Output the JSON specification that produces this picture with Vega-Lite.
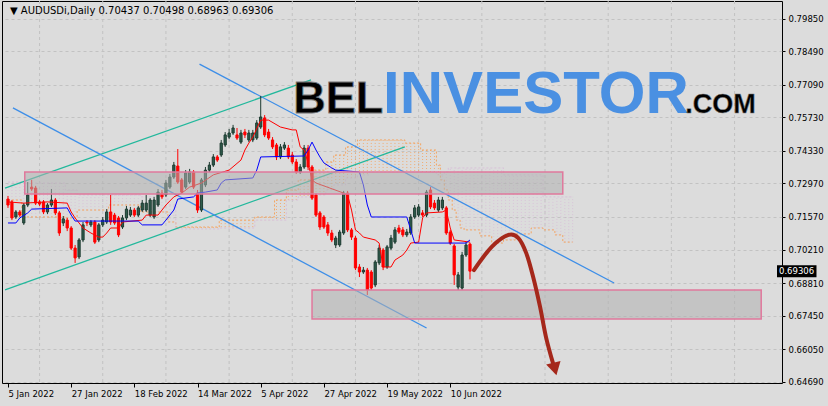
{
"$schema":"https://vega.github.io/schema/vega-lite/v6.json",
"width":780,"height":382,
"autosize":{"type":"none"},
"padding":{"left":2,"top":1,"right":46,"bottom":23},
"background":"#dcdcdc",
"config":{"view":{"stroke":"#000000","strokeWidth":1}},
"datasets":{
"gx":[{"i":8},{"i":24},{"i":40},{"i":56},{"i":72},{"i":88},{"i":104},{"i":120},{"i":136},{"i":152},{"i":168},{"i":184}],
"candles":[
{"i":0,"o":0.7232,"h":0.7245,"l":0.7195,"c":0.7207},
{"i":1,"o":0.7220,"h":0.7228,"l":0.7144,"c":0.7153},
{"i":2,"o":0.7157,"h":0.7186,"l":0.7149,"c":0.7178},
{"i":3,"o":0.7178,"h":0.7186,"l":0.7157,"c":0.7165},
{"i":4,"o":0.7132,"h":0.7215,"l":0.7124,"c":0.7207},
{"i":5,"o":0.7207,"h":0.7303,"l":0.7199,"c":0.7249},
{"i":6,"o":0.7282,"h":0.7312,"l":0.7266,"c":0.7274},
{"i":7,"o":0.7278,"h":0.7287,"l":0.7207,"c":0.7215},
{"i":8,"o":0.7220,"h":0.7228,"l":0.7203,"c":0.7211},
{"i":9,"o":0.7220,"h":0.7228,"l":0.7169,"c":0.7178},
{"i":10,"o":0.7178,"h":0.7215,"l":0.7169,"c":0.7207},
{"i":11,"o":0.7207,"h":0.7274,"l":0.7199,"c":0.7228},
{"i":12,"o":0.7228,"h":0.7236,"l":0.7165,"c":0.7174},
{"i":13,"o":0.7174,"h":0.7182,"l":0.7078,"c":0.7090},
{"i":14,"o":0.7132,"h":0.7161,"l":0.7119,"c":0.7149},
{"i":15,"o":0.7144,"h":0.7153,"l":0.7098,"c":0.7111},
{"i":16,"o":0.7111,"h":0.7119,"l":0.7019,"c":0.7027},
{"i":17,"o":0.7027,"h":0.7040,"l":0.6965,"c":0.6986},
{"i":18,"o":0.6990,"h":0.7069,"l":0.6981,"c":0.7061},
{"i":19,"o":0.7061,"h":0.7136,"l":0.7052,"c":0.7124},
{"i":20,"o":0.7136,"h":0.7144,"l":0.7119,"c":0.7132},
{"i":21,"o":0.7124,"h":0.7144,"l":0.7115,"c":0.7136},
{"i":22,"o":0.7136,"h":0.7144,"l":0.7044,"c":0.7052},
{"i":23,"o":0.7061,"h":0.7132,"l":0.7052,"c":0.7124},
{"i":24,"o":0.7124,"h":0.7157,"l":0.7115,"c":0.7144},
{"i":25,"o":0.7136,"h":0.7190,"l":0.7128,"c":0.7178},
{"i":26,"o":0.7178,"h":0.7249,"l":0.7124,"c":0.7136},
{"i":27,"o":0.7165,"h":0.7174,"l":0.7124,"c":0.7132},
{"i":28,"o":0.7153,"h":0.7161,"l":0.7073,"c":0.7082},
{"i":29,"o":0.7115,"h":0.7165,"l":0.7107,"c":0.7153},
{"i":30,"o":0.7153,"h":0.7203,"l":0.7144,"c":0.7190},
{"i":31,"o":0.7165,"h":0.7199,"l":0.7157,"c":0.7186},
{"i":32,"o":0.7186,"h":0.7195,"l":0.7157,"c":0.7165},
{"i":33,"o":0.7165,"h":0.7203,"l":0.7157,"c":0.7195},
{"i":34,"o":0.7186,"h":0.7228,"l":0.7178,"c":0.7215},
{"i":35,"o":0.7186,"h":0.7249,"l":0.7178,"c":0.7215},
{"i":36,"o":0.7165,"h":0.7236,"l":0.7157,"c":0.7228},
{"i":37,"o":0.7157,"h":0.7241,"l":0.7149,"c":0.7228},
{"i":38,"o":0.7207,"h":0.7274,"l":0.7199,"c":0.7261},
{"i":39,"o":0.7257,"h":0.7270,"l":0.7232,"c":0.7241},
{"i":40,"o":0.7249,"h":0.7312,"l":0.7241,"c":0.7299},
{"i":41,"o":0.7282,"h":0.7337,"l":0.7274,"c":0.7324},
{"i":42,"o":0.7324,"h":0.7387,"l":0.7316,"c":0.7374},
{"i":43,"o":0.7370,"h":0.7441,"l":0.7295,"c":0.7303},
{"i":44,"o":0.7312,"h":0.7320,"l":0.7253,"c":0.7261},
{"i":45,"o":0.7282,"h":0.7353,"l":0.7274,"c":0.7341},
{"i":46,"o":0.7303,"h":0.7358,"l":0.7295,"c":0.7345},
{"i":47,"o":0.7345,"h":0.7353,"l":0.7274,"c":0.7282},
{"i":48,"o":0.7257,"h":0.7270,"l":0.7174,"c":0.7186},
{"i":49,"o":0.7186,"h":0.7320,"l":0.7178,"c":0.7312},
{"i":50,"o":0.7291,"h":0.7366,"l":0.7282,"c":0.7353},
{"i":51,"o":0.7353,"h":0.7387,"l":0.7345,"c":0.7374},
{"i":52,"o":0.7374,"h":0.7420,"l":0.7366,"c":0.7408},
{"i":53,"o":0.7408,"h":0.7416,"l":0.7387,"c":0.7395},
{"i":54,"o":0.7416,"h":0.7479,"l":0.7408,"c":0.7466},
{"i":55,"o":0.7458,"h":0.7512,"l":0.7450,"c":0.7500},
{"i":56,"o":0.7491,"h":0.7525,"l":0.7483,"c":0.7508},
{"i":57,"o":0.7508,"h":0.7542,"l":0.7500,"c":0.7529},
{"i":58,"o":0.7500,"h":0.7529,"l":0.7479,"c":0.7487},
{"i":59,"o":0.7470,"h":0.7521,"l":0.7462,"c":0.7508},
{"i":60,"o":0.7512,"h":0.7525,"l":0.7487,"c":0.7500},
{"i":61,"o":0.7479,"h":0.7521,"l":0.7470,"c":0.7508},
{"i":62,"o":0.7479,"h":0.7521,"l":0.7470,"c":0.7508},
{"i":63,"o":0.7487,"h":0.7562,"l":0.7479,"c":0.7550},
{"i":64,"o":0.7533,"h":0.7663,"l":0.7525,"c":0.7575},
{"i":65,"o":0.7571,"h":0.7583,"l":0.7491,"c":0.7500},
{"i":66,"o":0.7512,"h":0.7525,"l":0.7479,"c":0.7487},
{"i":67,"o":0.7479,"h":0.7491,"l":0.7441,"c":0.7450},
{"i":68,"o":0.7458,"h":0.7466,"l":0.7395,"c":0.7408},
{"i":69,"o":0.7408,"h":0.7462,"l":0.7399,"c":0.7450},
{"i":70,"o":0.7445,"h":0.7470,"l":0.7437,"c":0.7458},
{"i":71,"o":0.7445,"h":0.7458,"l":0.7399,"c":0.7408},
{"i":72,"o":0.7416,"h":0.7429,"l":0.7378,"c":0.7387},
{"i":73,"o":0.7387,"h":0.7399,"l":0.7337,"c":0.7345},
{"i":74,"o":0.7345,"h":0.7378,"l":0.7337,"c":0.7366},
{"i":75,"o":0.7366,"h":0.7458,"l":0.7358,"c":0.7445},
{"i":76,"o":0.7445,"h":0.7458,"l":0.7353,"c":0.7366},
{"i":77,"o":0.7366,"h":0.7374,"l":0.7228,"c":0.7236},
{"i":78,"o":0.7249,"h":0.7257,"l":0.7157,"c":0.7165},
{"i":79,"o":0.7174,"h":0.7182,"l":0.7103,"c":0.7115},
{"i":80,"o":0.7157,"h":0.7165,"l":0.7107,"c":0.7115},
{"i":81,"o":0.7124,"h":0.7136,"l":0.7078,"c":0.7090},
{"i":82,"o":0.7090,"h":0.7103,"l":0.7052,"c":0.7061},
{"i":83,"o":0.7040,"h":0.7078,"l":0.7027,"c":0.7069},
{"i":84,"o":0.7040,"h":0.7103,"l":0.7032,"c":0.7094},
{"i":85,"o":0.7090,"h":0.7266,"l":0.7082,"c":0.7257},
{"i":86,"o":0.7257,"h":0.7266,"l":0.7094,"c":0.7103},
{"i":87,"o":0.7103,"h":0.7111,"l":0.7061,"c":0.7073},
{"i":88,"o":0.7069,"h":0.7078,"l":0.6935,"c":0.6944},
{"i":89,"o":0.6948,"h":0.6960,"l":0.6906,"c":0.6927},
{"i":90,"o":0.6927,"h":0.6948,"l":0.6919,"c":0.6935},
{"i":91,"o":0.6935,"h":0.6944,"l":0.6831,"c":0.6852},
{"i":92,"o":0.6927,"h":0.6935,"l":0.6852,"c":0.6860},
{"i":93,"o":0.6873,"h":0.6977,"l":0.6864,"c":0.6969},
{"i":94,"o":0.6965,"h":0.7040,"l":0.6956,"c":0.7027},
{"i":95,"o":0.7019,"h":0.7027,"l":0.6935,"c":0.6948},
{"i":96,"o":0.6948,"h":0.7040,"l":0.6940,"c":0.7032},
{"i":97,"o":0.7027,"h":0.7082,"l":0.7019,"c":0.7069},
{"i":98,"o":0.7052,"h":0.7115,"l":0.7044,"c":0.7103},
{"i":99,"o":0.7111,"h":0.7124,"l":0.7086,"c":0.7094},
{"i":100,"o":0.7103,"h":0.7115,"l":0.7073,"c":0.7082},
{"i":101,"o":0.7082,"h":0.7107,"l":0.7073,"c":0.7094},
{"i":102,"o":0.7090,"h":0.7169,"l":0.7082,"c":0.7157},
{"i":103,"o":0.7157,"h":0.7207,"l":0.7149,"c":0.7195},
{"i":104,"o":0.7165,"h":0.7211,"l":0.7157,"c":0.7199},
{"i":105,"o":0.7174,"h":0.7186,"l":0.7157,"c":0.7165},
{"i":106,"o":0.7165,"h":0.7270,"l":0.7157,"c":0.7261},
{"i":107,"o":0.7270,"h":0.7282,"l":0.7190,"c":0.7199},
{"i":108,"o":0.7215,"h":0.7228,"l":0.7186,"c":0.7195},
{"i":109,"o":0.7186,"h":0.7241,"l":0.7178,"c":0.7228},
{"i":110,"o":0.7195,"h":0.7241,"l":0.7186,"c":0.7228},
{"i":111,"o":0.7195,"h":0.7203,"l":0.7082,"c":0.7090},
{"i":112,"o":0.7094,"h":0.7103,"l":0.7040,"c":0.7048},
{"i":113,"o":0.7036,"h":0.7044,"l":0.6873,"c":0.6915},
{"i":114,"o":0.6864,"h":0.6927,"l":0.6852,"c":0.6915},
{"i":115,"o":0.6860,"h":0.7011,"l":0.6852,"c":0.6998},
{"i":116,"o":0.6998,"h":0.7052,"l":0.6990,"c":0.7040},
{"i":117,"o":0.70437,"h":0.70498,"l":0.68963,"c":0.69306}
],
"tenkan":[
{"i":0,"p":0.7220},{"i":4,"p":0.7215},{"i":10,"p":0.7220},{"i":15,"p":0.7215},{"i":16,"p":0.7178},{"i":17,"p":0.7153},{"i":19,"p":0.7111},{"i":21,"p":0.7090},{"i":23,"p":0.7073},{"i":24,"p":0.7073},{"i":25,"p":0.7090},{"i":26,"p":0.7111},{"i":28,"p":0.7111},{"i":29,"p":0.7136},{"i":34,"p":0.7144},{"i":35,"p":0.7165},{"i":38,"p":0.7165},{"i":39,"p":0.7186},{"i":40,"p":0.7207},{"i":42,"p":0.7241},{"i":44,"p":0.7257},{"i":46,"p":0.7282},{"i":49,"p":0.7299},{"i":52,"p":0.7333},{"i":56,"p":0.7353},{"i":59,"p":0.7395},{"i":60,"p":0.7437},{"i":61,"p":0.7466},{"i":62,"p":0.7491},{"i":64,"p":0.7562},{"i":66,"p":0.7562},{"i":69,"p":0.7533},{"i":72,"p":0.7521},{"i":73,"p":0.7521},{"i":74,"p":0.7450},{"i":75,"p":0.7437},{"i":76,"p":0.7383},{"i":77,"p":0.7312},{"i":78,"p":0.7299},{"i":85,"p":0.7257},{"i":86,"p":0.7249},{"i":87,"p":0.7186},{"i":88,"p":0.7103},{"i":89,"p":0.7090},{"i":90,"p":0.7073},{"i":93,"p":0.7061},{"i":94,"p":0.7048},{"i":95,"p":0.6948},{"i":97,"p":0.6948},{"i":98,"p":0.6977},{"i":100,"p":0.6998},{"i":101,"p":0.7019},{"i":102,"p":0.7048},{"i":104,"p":0.7052},{"i":105,"p":0.7153},{"i":106,"p":0.7174},{"i":110,"p":0.7178},{"i":111,"p":0.7186},{"i":112,"p":0.7111},{"i":113,"p":0.7061},{"i":117,"p":0.7052}
],
"kijun":[
{"i":0,"p":0.7132},{"i":2,"p":0.7132},{"i":3,"p":0.7153},{"i":5,"p":0.7174},{"i":6,"p":0.7190},{"i":15,"p":0.7195},{"i":16,"p":0.7165},{"i":17,"p":0.7140},{"i":33,"p":0.7140},{"i":34,"p":0.7124},{"i":39,"p":0.7124},{"i":40,"p":0.7144},{"i":42,"p":0.7186},{"i":43,"p":0.7232},{"i":47,"p":0.7241},{"i":48,"p":0.7257},{"i":50,"p":0.7261},{"i":53,"p":0.7270},{"i":54,"p":0.7299},{"i":55,"p":0.7312},{"i":62,"p":0.7320},{"i":63,"p":0.7353},{"i":64,"p":0.7408},{"i":75,"p":0.7412},{"i":76,"p":0.7437},{"i":77,"p":0.7470},{"i":78,"p":0.7437},{"i":79,"p":0.7408},{"i":80,"p":0.7383},{"i":82,"p":0.7362},{"i":83,"p":0.7353},{"i":89,"p":0.7345},{"i":90,"p":0.7291},{"i":91,"p":0.7207},{"i":92,"p":0.7157},{"i":101,"p":0.7157},{"i":102,"p":0.7103},{"i":103,"p":0.7048},{"i":116,"p":0.7048},{"i":117,"p":0.7061}
],
"cloud":[
{"i":0,"a":0.7228,"b":0.7303},{"i":1,"a":0.7228,"b":0.7303},{"i":2,"a":0.7228,"b":0.7303},{"i":3,"a":0.7228,"b":0.7303},
{"i":4,"a":0.7157,"b":0.7299},{"i":5,"a":0.7157,"b":0.7299},{"i":6,"a":0.7157,"b":0.7299},{"i":7,"a":0.7157,"b":0.7299},{"i":8,"a":0.7157,"b":0.7299},{"i":9,"a":0.7157,"b":0.7299},{"i":10,"a":0.7157,"b":0.7299},{"i":11,"a":0.7157,"b":0.7299},{"i":12,"a":0.7157,"b":0.7299},{"i":13,"a":0.7157,"b":0.7299},{"i":14,"a":0.7157,"b":0.7299},
{"i":15,"a":0.7153,"b":0.7270},{"i":16,"a":0.7153,"b":0.7270},{"i":17,"a":0.7153,"b":0.7270},
{"i":18,"a":0.7186,"b":0.7249},{"i":19,"a":0.7186,"b":0.7249},{"i":20,"a":0.7186,"b":0.7249},{"i":21,"a":0.7186,"b":0.7249},{"i":22,"a":0.7186,"b":0.7249},{"i":23,"a":0.7186,"b":0.7249},{"i":24,"a":0.7186,"b":0.7249},{"i":25,"a":0.7186,"b":0.7249},
{"i":26,"a":0.7207,"b":0.7249},{"i":27,"a":0.7207,"b":0.7249},{"i":28,"a":0.7207,"b":0.7249},{"i":29,"a":0.7207,"b":0.7249},{"i":30,"a":0.7207,"b":0.7249},{"i":31,"a":0.7207,"b":0.7249},{"i":32,"a":0.7207,"b":0.7249},{"i":33,"a":0.7207,"b":0.7249},
{"i":34,"a":0.7178,"b":0.7241},{"i":35,"a":0.7178,"b":0.7241},{"i":36,"a":0.7178,"b":0.7241},{"i":37,"a":0.7178,"b":0.7241},{"i":38,"a":0.7178,"b":0.7241},{"i":39,"a":0.7178,"b":0.7241},{"i":40,"a":0.7178,"b":0.7241},
{"i":41,"a":0.7136,"b":0.7207},{"i":42,"a":0.7136,"b":0.7207},
{"i":43,"a":0.7115,"b":0.7107},{"i":44,"a":0.7115,"b":0.7107},{"i":45,"a":0.7115,"b":0.7107},{"i":46,"a":0.7115,"b":0.7107},{"i":47,"a":0.7115,"b":0.7107},{"i":48,"a":0.7115,"b":0.7107},{"i":49,"a":0.7115,"b":0.7107},{"i":50,"a":0.7115,"b":0.7107},{"i":51,"a":0.7115,"b":0.7107},{"i":52,"a":0.7115,"b":0.7107},{"i":53,"a":0.7115,"b":0.7107},
{"i":54,"a":0.7144,"b":0.7111},{"i":55,"a":0.7144,"b":0.7111},{"i":56,"a":0.7144,"b":0.7111},{"i":57,"a":0.7144,"b":0.7111},{"i":58,"a":0.7144,"b":0.7111},{"i":59,"a":0.7144,"b":0.7111},{"i":60,"a":0.7144,"b":0.7111},{"i":61,"a":0.7144,"b":0.7111},{"i":62,"a":0.7144,"b":0.7111},
{"i":63,"a":0.7157,"b":0.7144},{"i":64,"a":0.7157,"b":0.7144},{"i":65,"a":0.7157,"b":0.7144},{"i":66,"a":0.7157,"b":0.7144},{"i":67,"a":0.7157,"b":0.7144},
{"i":68,"a":0.7228,"b":0.7144},{"i":69,"a":0.7228,"b":0.7144},{"i":70,"a":0.7228,"b":0.7144},
{"i":71,"a":0.7270,"b":0.7228},{"i":72,"a":0.7270,"b":0.7228},{"i":73,"a":0.7270,"b":0.7228},
{"i":74,"a":0.7312,"b":0.7241},{"i":75,"a":0.7312,"b":0.7241},{"i":76,"a":0.7312,"b":0.7241},{"i":77,"a":0.7312,"b":0.7241},
{"i":78,"a":0.7353,"b":0.7249},{"i":79,"a":0.7353,"b":0.7249},{"i":80,"a":0.7353,"b":0.7249},
{"i":81,"a":0.7387,"b":0.7270},{"i":82,"a":0.7387,"b":0.7270},
{"i":83,"a":0.7416,"b":0.7291},{"i":84,"a":0.7416,"b":0.7291},{"i":85,"a":0.7416,"b":0.7291},
{"i":86,"a":0.7450,"b":0.7320},{"i":87,"a":0.7450,"b":0.7320},{"i":88,"a":0.7450,"b":0.7320},
{"i":89,"a":0.7479,"b":0.7333},{"i":90,"a":0.7479,"b":0.7333},{"i":91,"a":0.7479,"b":0.7333},
{"i":92,"a":0.7479,"b":0.7345},{"i":93,"a":0.7479,"b":0.7345},{"i":94,"a":0.7479,"b":0.7345},{"i":95,"a":0.7479,"b":0.7345},{"i":96,"a":0.7479,"b":0.7345},{"i":97,"a":0.7479,"b":0.7345},{"i":98,"a":0.7479,"b":0.7345},{"i":99,"a":0.7479,"b":0.7345},{"i":100,"a":0.7479,"b":0.7345},
{"i":101,"a":0.7466,"b":0.7345},{"i":102,"a":0.7466,"b":0.7345},{"i":103,"a":0.7466,"b":0.7345},{"i":104,"a":0.7466,"b":0.7345},
{"i":105,"a":0.7437,"b":0.7345},{"i":106,"a":0.7437,"b":0.7345},{"i":107,"a":0.7437,"b":0.7345},{"i":108,"a":0.7437,"b":0.7345},
{"i":109,"a":0.7374,"b":0.7333},{"i":110,"a":0.7312,"b":0.7333},{"i":111,"a":0.7270,"b":0.7345},{"i":112,"a":0.7228,"b":0.7362},{"i":113,"a":0.7186,"b":0.7362},{"i":114,"a":0.7144,"b":0.7362},{"i":115,"a":0.7111,"b":0.7362},
{"i":116,"a":0.7103,"b":0.7362},{"i":117,"a":0.7103,"b":0.7362},{"i":118,"a":0.7103,"b":0.7362},{"i":119,"a":0.7103,"b":0.7362},
{"i":120,"a":0.7078,"b":0.7362},{"i":121,"a":0.7078,"b":0.7362},{"i":122,"a":0.7078,"b":0.7362},
{"i":123,"a":0.7048,"b":0.7362},{"i":124,"a":0.7048,"b":0.7362},{"i":125,"a":0.7048,"b":0.7362},
{"i":126,"a":0.7061,"b":0.7333},{"i":127,"a":0.7061,"b":0.7333},{"i":128,"a":0.7061,"b":0.7333},
{"i":129,"a":0.7086,"b":0.7333},{"i":130,"a":0.7086,"b":0.7333},{"i":131,"a":0.7086,"b":0.7333},{"i":132,"a":0.7086,"b":0.7333},
{"i":133,"a":0.7111,"b":0.7333},{"i":134,"a":0.7111,"b":0.7333},{"i":135,"a":0.7111,"b":0.7333},
{"i":136,"a":0.7103,"b":0.7241},{"i":137,"a":0.7103,"b":0.7241},{"i":138,"a":0.7103,"b":0.7241},
{"i":139,"a":0.7082,"b":0.7241},{"i":140,"a":0.7082,"b":0.7241},
{"i":141,"a":0.7052,"b":0.7241},{"i":142,"a":0.7052,"b":0.7241},{"i":143,"a":0.7052,"b":0.7241}
],
"teal":[{"seg":"u","i":-0.75,"p":0.7278},{"seg":"u","i":76.75,"p":0.7730},{"seg":"d","i":-0.75,"p":0.6852},{"seg":"d","i":100.5,"p":0.7450}],
"blue":[{"seg":"u","i":48.5,"p":0.7796},{"seg":"u","i":153.5,"p":0.6881},{"seg":"d","i":1.25,"p":0.7613},{"seg":"d","i":106,"p":0.6693}],
"zones":[{"i":4.25,"i2":140.5,"p":0.7345,"p2":0.7253},{"i":77,"i2":190.75,"p":0.6852,"p2":0.6731}],
"arrow":[{"k":1,"i":118,"p":0.6935},{"k":2,"i":122.5,"p":0.7032},{"k":3,"i":126.75,"p":0.7082},{"k":4,"i":129.25,"p":0.7069},{"k":5,"i":131.25,"p":0.7006},{"k":6,"i":133,"p":0.6906},{"k":7,"i":134.75,"p":0.6781},{"k":8,"i":136.25,"p":0.6655},{"k":9,"i":138,"p":0.6547}],
"head":[{"i":138.5,"p":0.6522}],
"bel":[{"i":72.25,"p":0.7592,"t":"BEL"}],
"inv":[{"i":95,"p":0.7592,"t":"INVESTOR"}],
"com":[{"i":171.5,"p":0.7592,"t":".COM"}],
"hdr":[{"i":0.5,"p":0.8018,"t":"▼ AUDUSDi,Daily  0.70437 0.70498 0.68963 0.69306"}],
"last":[{"i":194.75,"i2":204.75,"p":0.69306,"lo":0.69056,"hi":0.69556,"t":"0.69306"}]
},
"encoding":{"x":{"field":"i","type":"quantitative","title":null,
 "scale":{"domain":[-0.25,194.75],"nice":false,"zero":false},
 "axis":{"orient":"bottom","values":[0,16,32,48,64,80,96,112],"tickCount":40,
  "labelExpr":"['5 Jan 2022','27 Jan 2022','18 Feb 2022','14 Mar 2022','5 Apr 2022','27 Apr 2022','19 May 2022','10 Jun 2022'][round(datum.value/16)]",
  "grid":false,"domain":false,"tickSize":4,"tickColor":"#000000","labelAlign":"left","labelBaseline":"top","labelPadding":2,
  "labelFont":"DejaVu Sans","labelFontSize":8.5,"labelColor":"#000000","labelFlush":false,"labelOverlap":false}}},
"layer":[
{"data":{"name":"candles"},"mark":{"type":"rule","strokeWidth":1},
 "encoding":{"y":{"field":"l","type":"quantitative","title":null,"scale":{"domain":[0.64631,0.80598],"nice":false,"zero":false},
   "axis":{"orient":"right","values":[0.6469,0.6605,0.6745,0.6881,0.7021,0.7157,0.7297,0.7433,0.7573,0.7709,0.7849,0.7985],"format":".5f","tickCount":40,
    "tickSize":3,"tickColor":"#000000","domain":false,"grid":true,"gridColor":"#c2c2c2","gridDash":[3,3],
    "labelColor":"#000000","labelFont":"DejaVu Sans","labelFontSize":8.5,"labelPadding":3,"labelOverlap":false,"labelFlush":false}},
  "y2":{"field":"h"},
  "opacity":{"value":0}}},
{"data":{"name":"gx"},"mark":{"type":"rule","color":"#c2c2c2","strokeDash":[3,3],"strokeWidth":1}},
{"data":{"name":"cloud"},"mark":{"type":"rule","strokeDash":[1,2],"strokeWidth":1,"opacity":0.85},
 "encoding":{"y":{"field":"a","type":"quantitative","title":null,"scale":{"domain":[0.64631,0.80598],"nice":false,"zero":false}},"y2":{"field":"b"},
  "color":{"condition":{"test":"datum.a > datum.b","value":"#f4a460"},"value":"#d8bfd8"}}},
{"data":{"name":"cloud"},"mark":{"type":"line","color":"#f4a460","strokeDash":[2,2],"strokeWidth":1,"interpolate":"step"},
 "encoding":{"y":{"field":"a","type":"quantitative","title":null,"scale":{"domain":[0.64631,0.80598],"nice":false,"zero":false}}}},
{"data":{"name":"cloud"},"mark":{"type":"line","color":"#d8bfd8","strokeDash":[2,2],"strokeWidth":1,"interpolate":"step"},
 "encoding":{"y":{"field":"b","type":"quantitative","title":null,"scale":{"domain":[0.64631,0.80598],"nice":false,"zero":false}}}},
{"data":{"name":"teal"},"mark":{"type":"line","color":"#22b89c","strokeWidth":1.3},
 "encoding":{"y":{"field":"p","type":"quantitative","title":null,"scale":{"domain":[0.64631,0.80598],"nice":false,"zero":false}},"detail":{"field":"seg"}}},
{"data":{"name":"blue"},"mark":{"type":"line","color":"#3d8ee8","strokeWidth":1.3},
 "encoding":{"y":{"field":"p","type":"quantitative","title":null,"scale":{"domain":[0.64631,0.80598],"nice":false,"zero":false}},"detail":{"field":"seg"}}},
{"data":{"name":"candles"},"mark":{"type":"rule","strokeWidth":1},
 "encoding":{"y":{"field":"l","type":"quantitative","title":null,"scale":{"domain":[0.64631,0.80598],"nice":false,"zero":false}},
  "y2":{"field":"h"},
  "color":{"condition":{"test":"datum.c >= datum.o","value":"#1d3a30"},"value":"#ff0000"}}},
{"data":{"name":"candles"},"mark":{"type":"bar","size":2.2,"strokeWidth":1},
 "encoding":{"y":{"field":"o","type":"quantitative","title":null,"scale":{"domain":[0.64631,0.80598],"nice":false,"zero":false}},"y2":{"field":"c"},
  "fill":{"condition":{"test":"datum.c >= datum.o","value":"#2f5c4c"},"value":"#ff0000"},
  "stroke":{"condition":{"test":"datum.c >= datum.o","value":"#1d3a30"},"value":"#ff0000"}}},
{"data":{"name":"tenkan"},"mark":{"type":"line","color":"#ff0000","strokeWidth":1},
 "encoding":{"y":{"field":"p","type":"quantitative","title":null,"scale":{"domain":[0.64631,0.80598],"nice":false,"zero":false}}}},
{"data":{"name":"kijun"},"mark":{"type":"line","color":"#0000ff","strokeWidth":1},
 "encoding":{"y":{"field":"p","type":"quantitative","title":null,"scale":{"domain":[0.64631,0.80598],"nice":false,"zero":false}}}},
{"data":{"name":"zones"},"mark":{"type":"rect","fill":"#b0b0b0","fillOpacity":0.55,"stroke":"#e0789c","strokeWidth":1.5},
 "encoding":{"x2":{"field":"i2"},"y":{"field":"p","type":"quantitative","title":null,"scale":{"domain":[0.64631,0.80598],"nice":false,"zero":false}},"y2":{"field":"p2"}}},
{"data":{"name":"arrow"},"mark":{"type":"line","color":"#a5281b","strokeWidth":4,"interpolate":"cardinal","strokeCap":"round"},
 "encoding":{"y":{"field":"p","type":"quantitative","title":null,"scale":{"domain":[0.64631,0.80598],"nice":false,"zero":false}},"order":{"field":"k"}}},
{"data":{"name":"head"},"mark":{"type":"point","shape":"triangle-down","filled":true,"color":"#a5281b","size":220,"angle":-14,"opacity":1},
 "encoding":{"y":{"field":"p","type":"quantitative","title":null,"scale":{"domain":[0.64631,0.80598],"nice":false,"zero":false}}}},
{"data":{"name":"bel"},"mark":{"type":"text","align":"left","baseline":"alphabetic","font":"Liberation Sans","fontWeight":"bold","fontSize":45,"fill":"#000000","stroke":"#777777","strokeWidth":0.8},
 "encoding":{"y":{"field":"p","type":"quantitative","title":null,"scale":{"domain":[0.64631,0.80598],"nice":false,"zero":false}},"text":{"field":"t"}}},
{"data":{"name":"inv"},"mark":{"type":"text","align":"left","baseline":"alphabetic","font":"Liberation Sans","fontWeight":"bold","fontSize":60,"fill":"#4a90e2"},
 "encoding":{"y":{"field":"p","type":"quantitative","title":null,"scale":{"domain":[0.64631,0.80598],"nice":false,"zero":false}},"text":{"field":"t"}}},
{"data":{"name":"com"},"mark":{"type":"text","align":"left","baseline":"alphabetic","font":"Liberation Sans","fontWeight":"bold","fontSize":27,"fill":"#000000","stroke":"#777777","strokeWidth":0.5},
 "encoding":{"y":{"field":"p","type":"quantitative","title":null,"scale":{"domain":[0.64631,0.80598],"nice":false,"zero":false}},"text":{"field":"t"}}},
{"data":{"name":"hdr"},"mark":{"type":"text","align":"left","baseline":"middle","font":"DejaVu Sans","fontSize":10,"fill":"#000000"},
 "encoding":{"y":{"field":"p","type":"quantitative","title":null,"scale":{"domain":[0.64631,0.80598],"nice":false,"zero":false}},"text":{"field":"t"}}},
{"data":{"name":"last"},"mark":{"type":"rect","fill":"#000000"},
 "encoding":{"x2":{"field":"i2"},"y":{"field":"lo","type":"quantitative","title":null,"scale":{"domain":[0.64631,0.80598],"nice":false,"zero":false}},"y2":{"field":"hi"}}},
{"data":{"name":"last"},"mark":{"type":"text","align":"left","baseline":"middle","dx":2,"font":"DejaVu Sans","fontSize":8.5,"fill":"#ffffff"},
 "encoding":{"y":{"field":"p","type":"quantitative","title":null,"scale":{"domain":[0.64631,0.80598],"nice":false,"zero":false}},"text":{"field":"t"}}}
]
}
